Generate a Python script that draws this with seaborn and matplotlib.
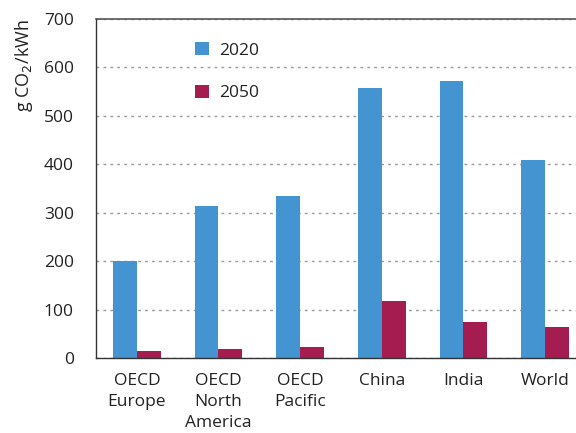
import pandas as pd
import numpy as np
import matplotlib
matplotlib.use("Agg")
import matplotlib.pyplot as plt
from matplotlib.ticker import MultipleLocator, FixedLocator
import seaborn as sns

# data
regions = ["OECD\nEurope", "OECD\nNorth\nAmerica", "OECD\nPacific", "China", "India", "World"]
years = ["2020", "2050"]
values_2020 = [201, 314, 335, 558, 572, 409]
values_2050 = [14, 18, 22, 118, 74, 64]

df = pd.DataFrame({
    "region": regions * 2,
    "year": [years[0]] * len(regions) + [years[1]] * len(regions),
    "value": values_2020 + values_2050,
})

sns.set_theme(style="white")
plt.rcParams["font.family"] = ["Open Sans", "DejaVu Sans"]

fig = plt.figure(figsize=(5.76, 4.33), dpi=100)
ax = fig.add_axes([96 / 576, 1 - 358 / 433, 490 / 576, (358 - 19) / 433])

palette = {"2020": "#4394D1", "2050": "#A51C50"}
sns.barplot(data=df, x="region", y="value", hue="year", palette=palette,
            width=0.58, linewidth=0, saturation=1, ax=ax)

ax.set_ylim(0, 700)
ax.set_xlim(-0.5, len(regions) - 0.5)
ax.yaxis.set_major_locator(MultipleLocator(100))
ax.grid(axis="y", linestyle=(0, (2, 3)), color="#999999", linewidth=1)
ax.set_axisbelow(True)

# spines
ax.spines["right"].set_visible(False)
ax.spines["top"].set_color("#555555")
ax.spines["top"].set_linewidth(1.2)
for s in ["left", "bottom"]:
    ax.spines[s].set_color("#333333")
    ax.spines[s].set_linewidth(1)

ax.tick_params(axis="y", length=0, labelsize=12.5, colors="#222222", pad=16)
ax.tick_params(axis="x", which="major", length=0, labelsize=12.5, colors="#222222", pad=11)
ax.xaxis.set_minor_locator(FixedLocator(np.arange(-0.5, len(regions), 1)))
ax.tick_params(axis="x", which="minor", length=8, width=1, color="#333333", direction="out")
ax.set_xticks(range(len(regions)))
ax.set_xticklabels(regions, linespacing=1.4)

ax.set_xlabel("")
ax.set_ylabel("g CO$_2$/kWh", fontsize=13, color="#222222", loc="top", labelpad=6)

leg = ax.legend(loc="upper left", bbox_to_anchor=(188 / 576, 1 - 35 / 433),
                bbox_transform=fig.transFigure, frameon=False, fontsize=12.5,
                handlelength=0.8, handleheight=0.8, labelspacing=1.5,
                handletextpad=0.6, borderaxespad=0)
for t in leg.get_texts():
    t.set_color("#222222")

fig.savefig("out.png", dpi=100)
